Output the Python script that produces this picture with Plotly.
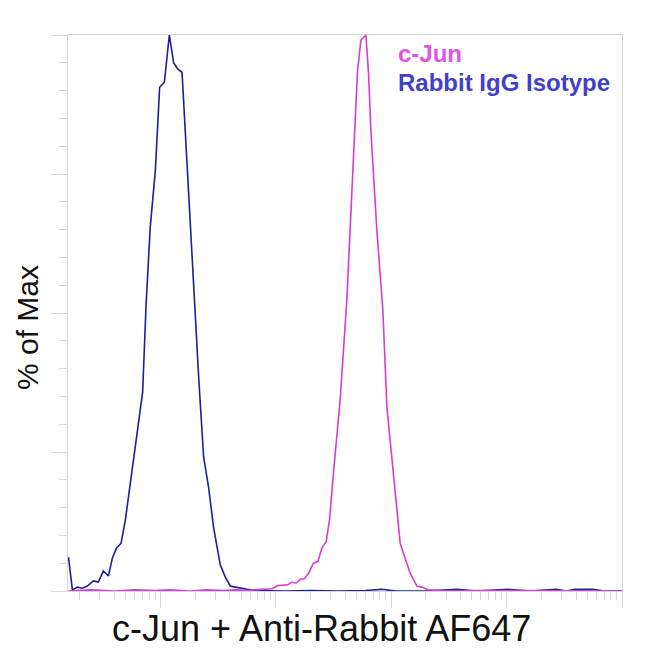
"""
Flow cytometry histogram: c-Jun vs rabbit IgG isotype control (% of Max).
"""
import plotly.graph_objects as go

# channel intensity (log axis) and % of max for the isotype control
isotype_x = [1.60, 1.73, 1.91, 2.11, 2.33, 2.63, 2.90, 3.21, 3.55, 3.84,
             4.16, 4.57, 4.98, 5.50, 6.28, 7.03, 7.52, 8.18, 9.06, 9.86,
             10.84, 11.97, 13.03, 14.13, 15.42, 19.82, 21.48, 23.71, 26.18, 28.91,
             33.04, 36.56, 40.36, 44.57, 49.32, 56.62, 70.8, 120, 200, 350,
             600, 830, 1100, 2000, 3700, 5500, 10200, 16000, 27000, 33000,
             39000, 48000, 56000, 70000, 100000]
isotype_y = [6.1, 0.2, 0.7, 0.5, 0.9, 1.8, 1.6, 3.6, 2.7, 5.9,
             7.7, 8.6, 12.8, 19.6, 29.0, 35.8, 51.4, 65.5, 75.7, 90.6,
             91.5, 100.0, 95.0, 93.9, 93.3, 50.5, 38.5, 24.1, 18.7, 11.5,
             4.7, 2.5, 0.9, 0.7, 0.5, 0.3, 0.1, 0.0, 0.1, 0.0,
             0.1, 0.3, 0.0, 0.0, 0.3, 0.0, 0.3, 0.0, 0.3, 0.0,
             0.3, 0.3, 0.3, 0.0, 0.0]

# c-Jun stained sample
cjun_x = [1.6, 2.5, 4, 6, 9, 12, 18, 25, 35, 45,
          55, 68, 78.3, 92.7, 103.8, 113.2, 126.5, 138.0, 149.6, 162.9,
          176.6, 192.3, 212.3, 231.7, 251.2, 273.5, 292.4, 316.2, 361.4, 413.0,
          441.6, 472.1, 510.5, 547.0, 603.9, 636.8, 666.8, 751.6, 847.2, 918.3,
          1047, 1197, 1321, 1462, 1671, 1845, 2104, 3000, 6000, 20000,
          100000]
cjun_y = [0.0, 0.2, 0.0, 0.2, 0.1, 0.2, 0.0, 0.2, 0.1, 0.2,
          0.1, 0.2, 0.2, 0.4, 1.0, 1.1, 1.1, 1.6, 1.4, 2.1,
          2.2, 3.2, 5.0, 5.3, 7.7, 8.9, 12.8, 21.2, 34.4, 52.3,
          64.9, 79.9, 93.4, 99.1, 100.0, 93.1, 82.9, 64.9, 50.5, 33.1,
          20.6, 8.6, 5.9, 3.2, 0.9, 0.7, 0.2, 0.0, 0.1, 0.0,
          0.0]

legend_labels = ["c-Jun", "Rabbit IgG Isotype"]
x_title = "c-Jun + Anti-Rabbit AF647"
y_title = "% of Max"

FONT = "Arial, Liberation Sans, sans-serif"
FRAME = "#d6d6d6"

fig = go.Figure()
fig.add_trace(go.Scatter(x=isotype_x, y=isotype_y, mode="lines",
                         line=dict(color="#1e1e96", width=1.6), name=legend_labels[1]))
fig.add_trace(go.Scatter(x=cjun_x, y=cjun_y, mode="lines",
                         line=dict(color="#d63cd6", width=1.6), name=legend_labels[0]))

fig.update_xaxes(type="log", range=[0.2, 5.0], dtick=1, showgrid=False, zeroline=False,
                 showline=True, linecolor=FRAME, mirror=True,
                 ticks="outside", ticklen=16, tickcolor=FRAME, showticklabels=False,
                 minor=dict(ticks="outside", ticklen=8, tickcolor=FRAME,
                            dtick="D1", showgrid=False))
fig.update_yaxes(range=[0, 100], dtick=25, showgrid=False, zeroline=False,
                 showline=True, linecolor=FRAME, mirror=True,
                 ticks="outside", ticklen=16, tickcolor=FRAME, showticklabels=False,
                 minor=dict(ticks="outside", ticklen=8, tickcolor=FRAME,
                            dtick=5, showgrid=False))

annotations = [
    dict(text=legend_labels[0], x=0.592, y=0.966, font=dict(size=24, color="#e055e0")),
    dict(text=legend_labels[1], x=0.592, y=0.914, font=dict(size=24, color="#4040cc")),
]
for a in annotations:
    a.update(xref="paper", yref="paper", xanchor="left", yanchor="middle",
             showarrow=False)
    a["text"] = "<b>" + a["text"] + "</b>"
    a["font"]["family"] = FONT

annotations.append(dict(text=x_title, x=0.457, y=-0.068, xref="paper", yref="paper",
                        xanchor="center", yanchor="middle", showarrow=False,
                        font=dict(family=FONT, size=36, color="#111111")))
annotations.append(dict(text=y_title, x=-0.074, y=0.473, xref="paper", yref="paper",
                        xanchor="center", yanchor="middle", showarrow=False, textangle=-90,
                        font=dict(family=FONT, size=30, color="#111111")))

# page body adds an 8px offset, so the figure is sized to fit the window
fig.update_layout(width=642, height=642, showlegend=False,
                  plot_bgcolor="white", paper_bgcolor="white",
                  margin=dict(l=60, r=28, t=27, b=59),
                  annotations=annotations)

fig.write_html("out.html")
